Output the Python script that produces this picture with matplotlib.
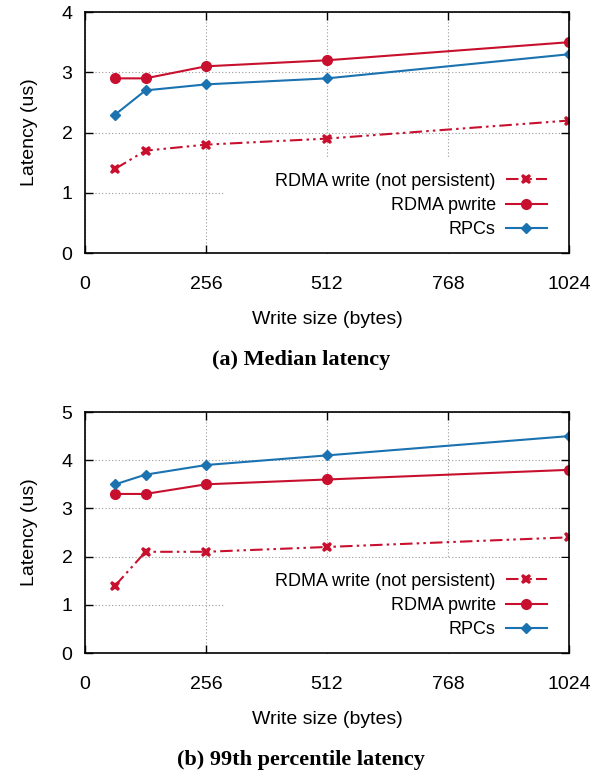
import matplotlib
matplotlib.use("Agg")
import matplotlib.pyplot as plt
from matplotlib.patches import Rectangle

sizes = [64, 128, 256, 512, 1024]
xticks = [0, 256, 512, 768, 1024]

med_write = [1.4, 1.7, 1.8, 1.9, 2.2]
med_pwrite = [2.9, 2.9, 3.1, 3.2, 3.5]
med_rpc = [2.3, 2.7, 2.8, 2.9, 3.3]

p99_write = [1.4, 2.1, 2.1, 2.2, 2.4]
p99_pwrite = [3.3, 3.3, 3.5, 3.6, 3.8]
p99_rpc = [3.5, 3.7, 3.9, 4.1, 4.5]

labels = ["RDMA write (not persistent)", "RDMA pwrite", "RPCs"]
RED = "#c8102e"
BLUE = "#1a72b0"

plt.rcParams['font.family'] = ['Liberation Sans', 'DejaVu Sans']
plt.rcParams['font.size'] = 13

fig = plt.figure(figsize=(6.05, 7.74), dpi=100)
ax1 = fig.add_axes([0.1405, 0.673, 0.80, 0.3114])
ax2 = fig.add_axes([0.1405, 0.1563, 0.80, 0.3114])


def draw(ax, w, p, r, ymax, caption, cy):
    ax.plot(sizes, w, color=RED, lw=1.5, ls=(0, (6, 2, 1.2, 2, 1.2, 2)),
            marker='X', ms=7.5, mew=0, label=labels[0], zorder=3)
    ax.plot(sizes, p, color=RED, lw=1.5, marker='o', ms=7, label=labels[1], zorder=3)
    ax.plot(sizes, r, color=BLUE, lw=1.5, marker='D', ms=5, label=labels[2], zorder=3)
    ax.set_xlim(0, 1024)
    ax.set_ylim(0, ymax)
    ax.set_xticks(xticks)
    ax.set_yticks(range(0, ymax + 1))
    ax.grid(True, color='#999999', lw=0.8, ls=(0, (1, 2)))
    ax.set_axisbelow(True)
    ax.tick_params(direction='in', top=True, right=True, length=6, width=1,
                   labelsize=14)
    ax.tick_params(axis='x', pad=16.5)
    ax.tick_params(axis='y', pad=9)
    for s in ax.spines.values():
        s.set_linewidth(1.2)
        s.set_zorder(4)
    ax.set_xlabel("Write size (bytes)", fontsize=14, labelpad=13)
    ax.set_ylabel("Latency (us)", fontsize=14, labelpad=17)
    # opaque key area (covers the grid like the original key box)
    ax.add_patch(Rectangle((0.289, 0.0), 0.711, 0.394, transform=ax.transAxes,
                           facecolor='white', edgecolor='none', zorder=1.5))
    leg = ax.legend(loc='lower right', bbox_to_anchor=(0.955, 0.062),
                    markerfirst=False, frameon=False, fontsize=13,
                    handlelength=2.3, labelspacing=0.4, borderpad=0,
                    borderaxespad=0, handletextpad=0.55)
    for t in leg.get_texts():
        t.set_ha('right')
    fig.text(0.497, cy, caption, ha='center', va='center', fontsize=16,
             fontweight='bold', family=['Liberation Serif', 'DejaVu Serif'])


draw(ax1, med_write, med_pwrite, med_rpc, 4, "(a) Median latency", 1 - 360 / 774)
draw(ax2, p99_write, p99_pwrite, p99_rpc, 5, "(b) 99th percentile latency", 1 - 760 / 774)

fig.savefig("out.png", dpi=100)
